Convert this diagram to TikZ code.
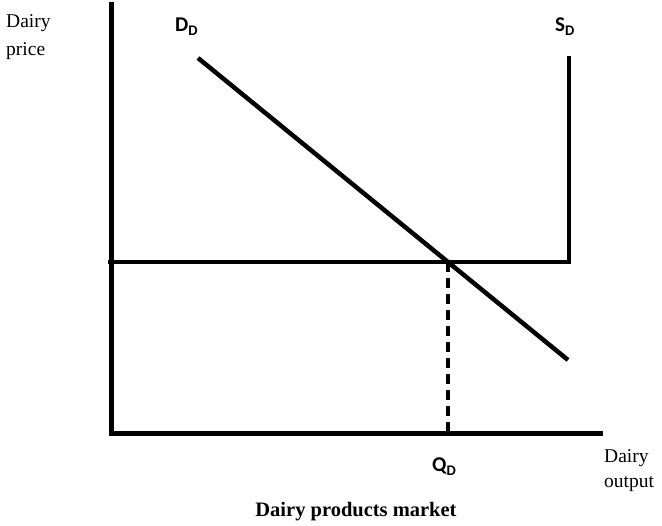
\documentclass[tikz,border=0pt]{standalone}
\usepackage{fontspec}
\setmainfont{Liberation Serif}
\newfontfamily\calib{Carlito}
\begin{document}
\begin{tikzpicture}[x=1pt,y=-1pt,
  axis/.style={line width=5pt},
  curve/.style={line width=4.5pt},
  guide/.style={line width=3.5pt, dash pattern=on 10pt off 6pt},
  serif/.style={align=left, inner sep=0pt, anchor=base west},
  cal/.style={font=\calib\bfseries\fontsize{21}{24}\selectfont, inner sep=0pt, anchor=base west},
  ttl/.style={font=\bfseries\fontsize{20.5}{24}\selectfont, inner sep=0pt, anchor=base}]
\useasboundingbox (0,0) rectangle (662,526);
% axes
\coordinate (ytop) at (111,5);
\coordinate (orig) at (111,434);
\coordinate (xend) at (600,434);
\draw[axis, line cap=rect] (ytop) -- (orig) -- (xend);
% price line and supply
\coordinate (pl) at (108,262);
\coordinate (pr) at (569,262);
\coordinate (st) at (569,56);
\draw[curve] (pl) -- (pr) -- (st);
% demand
\coordinate (d1) at (198,58);
\coordinate (d2) at (568,360);
\draw[curve] (d1) -- (d2);
% dashed
\coordinate (eq) at (448,262);
\coordinate (qb) at (448,432);
\draw[guide] (eq) -- (qb);
% labels
\node[serif, font=\fontsize{19.5}{28}\selectfont] (yl) at (6,56) {Dairy\\price};
\node[serif, font=\fontsize{19.5}{25}\selectfont] (xl) at (604,488) {Dairy\\output};
\node[cal] (dl) at (175,32) {D\textsubscript{D}};
\node[cal] (sl) at (555,32) {S\textsubscript{D}};
\node[cal] (ql) at (432,472) {Q\textsubscript{D}};
\node[ttl] (tt) at (356,517) {Dairy products market};
\end{tikzpicture}
\end{document}
